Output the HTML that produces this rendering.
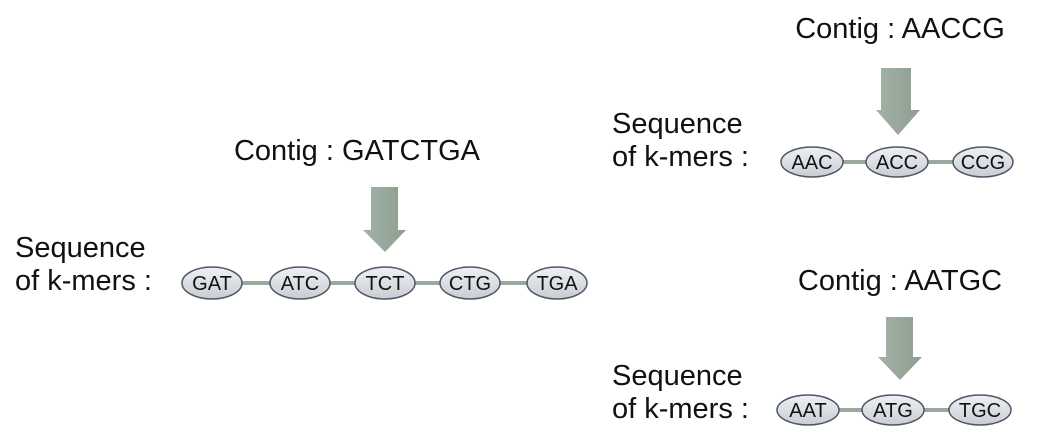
<!DOCTYPE html>
<html><head><meta charset="utf-8"><style>
html,body{margin:0;padding:0;background:#fff;}
svg{display:block;}
text{font-family:"Liberation Sans",sans-serif;fill:#111;}
</style></head><body>
<svg width="1057" height="438" viewBox="0 0 1057 438" xmlns="http://www.w3.org/2000/svg">
<defs>
<linearGradient id="g" x1="0" y1="0" x2="0" y2="1">
<stop offset="0" stop-color="#eef0f3"/><stop offset="1" stop-color="#c9cdd4"/></linearGradient>
<linearGradient id="a" x1="0" y1="0" x2="1" y2="0">
<stop offset="0" stop-color="#a3b2a6"/><stop offset="1" stop-color="#8d9e91"/></linearGradient>
</defs>
<g font-size="29">
<text x="357" y="160" text-anchor="middle">Contig : GATCTGA</text>
<text x="15" y="257">Sequence</text><text x="15" y="290">of k-mers :</text>
<text x="900" y="38" text-anchor="middle">Contig : AACCG</text>
<text x="612" y="133">Sequence</text><text x="612" y="166">of k-mers :</text>
<text x="900" y="290" text-anchor="middle">Contig : AATGC</text>
<text x="612" y="385">Sequence</text><text x="612" y="418">of k-mers :</text>
</g>
<polygon points="371,187 398,187 398,230 406,230 385,252 363,230 371,230" fill="url(#a)"/>
<polygon points="881,68 911,68 911,110 920,110 898,135 876,110 881,110" fill="url(#a)"/>
<polygon points="886,317 913,317 913,357 922,357 900,380 878,357 886,357" fill="url(#a)"/>
<g stroke="#9aa99c" stroke-width="4">
<line x1="212" y1="283" x2="557" y2="283"/>
<line x1="812" y1="162" x2="983" y2="162"/>
<line x1="808" y1="410" x2="980" y2="410"/>
</g>
<g fill="url(#g)" stroke="#4f5666" stroke-width="1.5">
<ellipse cx="212" cy="283" rx="30" ry="16"/><ellipse cx="300" cy="283" rx="30" ry="16"/>
<ellipse cx="385" cy="283" rx="30" ry="16"/><ellipse cx="470" cy="283" rx="30" ry="16"/>
<ellipse cx="557" cy="283" rx="30" ry="16"/>
<ellipse cx="812" cy="162" rx="31" ry="15"/><ellipse cx="897" cy="162" rx="31" ry="15"/>
<ellipse cx="983" cy="162" rx="30" ry="15"/>
<ellipse cx="808" cy="410" rx="31" ry="15"/><ellipse cx="893" cy="410" rx="31" ry="15"/>
<ellipse cx="980" cy="410" rx="31" ry="15"/>
</g>
<g font-size="20" text-anchor="middle">
<text x="212" y="290">GAT</text><text x="300" y="290">ATC</text><text x="385" y="290">TCT</text>
<text x="470" y="290">CTG</text><text x="557" y="290">TGA</text>
<text x="812" y="169">AAC</text><text x="897" y="169">ACC</text><text x="983" y="169">CCG</text>
<text x="808" y="417">AAT</text><text x="893" y="417">ATG</text><text x="980" y="417">TGC</text>
</g>
</svg>
</body></html>
